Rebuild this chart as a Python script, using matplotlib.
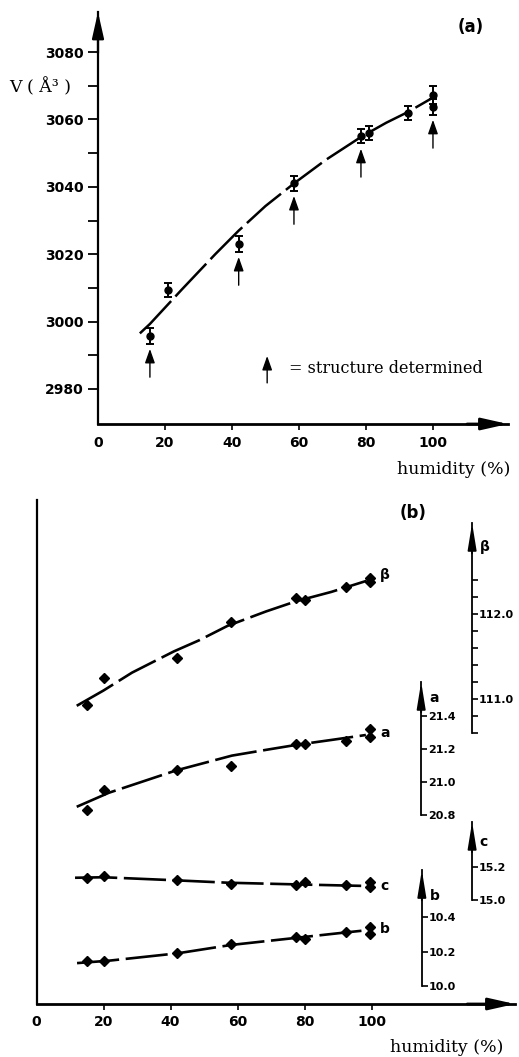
import matplotlib
matplotlib.use('Agg')
import matplotlib.pyplot as plt

W, H = 519, 1057
fig = plt.figure(figsize=(W / 100, H / 100), dpi=100)

# ---------------- data: panel (a) ----------------
hum_a = [15.5, 21, 42, 58.5, 78.5, 81, 92.5, 100, 100]
vol_a = [2995.7, 3009.4, 3023.0, 3041.1, 3055.1, 3056.0, 3061.9, 3067.2, 3063.7]
vol_err = [2.4, 2.2, 2.4, 2.2, 2.2, 2.2, 2.2, 2.6, 2.4]
struct_idx = [0, 2, 3, 4, 8]          # points marked "structure determined"
fit_hum_a = [12.5, 15.5, 25, 35, 42, 50, 58.5, 68, 78.5, 86, 92.5, 100]
fit_vol_a = [2996.5, 2999.3, 3009.5, 3020.0, 3027.0, 3034.3, 3041.0, 3048.0, 3054.8, 3059.0, 3062.2, 3066.5]
a_xticks = [0, 20, 40, 60, 80, 100]
a_yticks = [2980, 3000, 3020, 3040, 3060, 3080]
a_yminor = [2990, 3010, 3030, 3050, 3070]

# ---------------- data: panel (b) ----------------
hum_b = [15, 20, 42, 58, 77.5, 80, 92.5, 99.5, 99.5]
beta_v = [110.93, 111.25, 111.48, 111.91, 112.19, 112.16, 112.32, 112.42, 112.38]
a_v = [20.83, 20.95, 21.07, 21.10, 21.23, 21.23, 21.25, 21.32, 21.27]
c_v = [15.133, 15.145, 15.121, 15.097, 15.091, 15.109, 15.091, 15.109, 15.079]
b_v = [10.145, 10.145, 10.191, 10.243, 10.284, 10.272, 10.313, 10.342, 10.301]

fit_beta_x = [12, 20, 28.5, 41, 48.5, 57, 68.5, 77.5, 88, 98.5]
fit_beta_y = [110.92, 111.10, 111.31, 111.56, 111.69, 111.86, 112.03, 112.15, 112.26, 112.39]
fit_a_x = [12, 21.6, 41.6, 58.3, 68.5, 77.5, 88, 98.3]
fit_a_y = [20.85, 20.935, 21.07, 21.16, 21.195, 21.225, 21.255, 21.285]
fit_c_x = [11.5, 20, 41, 57, 77, 92, 99]
fit_c_y = [15.135, 15.138, 15.12, 15.105, 15.095, 15.088, 15.085]
fit_b_x = [12.1, 21.6, 42.2, 58, 77.8, 92.4, 99.3]
fit_b_y = [10.133, 10.147, 10.19, 10.238, 10.28, 10.311, 10.325]

b_xticks = [0, 20, 40, 60, 80, 100]

SANS = 'DejaVu Sans'
SERIF = 'DejaVu Serif'


def rect(x0, y0, x1, y1):
    return [x0 / W, 1 - y1 / H, (x1 - x0) / W, (y1 - y0) / H]


def big_arrow(ax, xy, xytext, lw=1.6, hl=1.6, hw=0.36):
    ax.annotate('', xy=xy, xytext=xytext, xycoords='axes fraction',
                textcoords='axes fraction',
                arrowprops=dict(arrowstyle='-|>,head_length=%g,head_width=%g' % (hl, hw),
                                color='k', lw=lw, mutation_scale=10,
                                shrinkA=0, shrinkB=0))


# ================= panel (a) =================
axa = fig.add_axes(rect(98, 12, 508, 424))
axa.set_xlim(0, 122.4)
axa.set_ylim(2969.6, 3091.9)
axa.patch.set_visible(False)
for s in ['top', 'right']:
    axa.spines[s].set_visible(False)
axa.spines['left'].set_linewidth(1.6)
axa.spines['bottom'].set_linewidth(2.0)
big_arrow(axa, (0, 1.0), (0, 0.9), lw=1.6)
big_arrow(axa, (1.0, 0), (0.9, 0), lw=2.0)

axa.set_xticks(a_xticks)
axa.set_xticklabels([str(v) for v in a_xticks])
axa.set_yticks(a_yticks)
axa.set_yticklabels([str(v) for v in a_yticks])
axa.set_yticks(a_yminor, minor=True)
axa.tick_params(axis='y', which='both', direction='out', length=7, width=1.3,
                pad=3, labelsize=10)
axa.tick_params(axis='x', direction='out', length=4, width=1.2, pad=5, labelsize=10)
for lab in axa.get_xticklabels() + axa.get_yticklabels():
    lab.set_fontfamily(SANS)
    lab.set_fontweight('bold')
axa.xaxis.get_major_ticks()[0].tick1line.set_visible(False)

axa.plot(fit_hum_a, fit_vol_a, color='k', lw=1.8, ls=(0, (18, 2.5)),
         solid_capstyle='butt', dash_capstyle='butt')
axa.errorbar(hum_a, vol_a, yerr=vol_err, fmt='o', color='k', ms=5,
             elinewidth=1.4, capsize=3, capthick=1.4)

for i in struct_idx:
    axa.annotate('', xy=(hum_a[i], vol_a[i] - 3.8), xytext=(hum_a[i], vol_a[i] - 12.2),
                 arrowprops=dict(arrowstyle='-|>,head_length=0.85,head_width=0.3',
                                 color='k', lw=1.0, mutation_scale=10,
                                 shrinkA=0, shrinkB=0))
# legend arrow
axa.annotate('', xy=(50.5, 2989.8), xytext=(50.5, 2981.8),
             arrowprops=dict(arrowstyle='-|>,head_length=0.85,head_width=0.3',
                             color='k', lw=1.0, mutation_scale=10,
                             shrinkA=0, shrinkB=0))
axa.text(57.0, 2986.0, '= structure determined', family=SERIF, fontsize=11.5,
         ha='left', va='center')

fig.text(9 / W, 1 - 87 / H, 'V ( Å³ )', family=SERIF, fontsize=12.5,
         ha='left', va='center')
fig.text(471 / W, 1 - 27 / H, '(a)', family=SANS, fontweight='bold',
         fontsize=12, ha='center', va='center')
fig.text(510 / W, 1 - 470 / H, 'humidity (%)', family=SERIF, fontsize=12.5,
         ha='right', va='center')

# ================= panel (b) =================
axb = fig.add_axes(rect(36.5, 500, 515, 1004))
axb.set_xlim(0, 142.8)
axb.set_ylim(0, 1)
axb.patch.set_visible(False)
for s in ['top', 'right']:
    axb.spines[s].set_visible(False)
axb.spines['left'].set_linewidth(1.6)
axb.spines['bottom'].set_linewidth(2.0)
big_arrow(axb, (1.0, 0), (0.9, 0), lw=2.0)
axb.set_yticks([])
axb.set_xticks(b_xticks)
axb.set_xticklabels([str(v) for v in b_xticks])
axb.tick_params(axis='x', direction='out', length=4, width=1.2, pad=4, labelsize=10)
for lab in axb.get_xticklabels():
    lab.set_fontfamily(SANS)
    lab.set_fontweight('bold')
axb.xaxis.get_major_ticks()[0].tick1line.set_visible(False)

fig.text(413 / W, 1 - 513 / H, '(b)', family=SANS, fontweight='bold',
         fontsize=12, ha='center', va='center')
fig.text(503 / W, 1 - 1047 / H, 'humidity (%)', family=SERIF, fontsize=12.5,
         ha='right', va='center')


def series_axis(ylim, sx, lo, top, majors, minors, fmt, name, name_y,
                px, py, fx, fy, lab, lab_y):
    t = axb.twinx()
    t.set_ylim(*ylim)
    t.set_xlim(axb.get_xlim())
    t.patch.set_visible(False)
    for s in ['left', 'top', 'bottom']:
        t.spines[s].set_visible(False)
    t.spines['right'].set_position(('data', sx))
    t.spines['right'].set_bounds(lo, top)
    t.spines['right'].set_linewidth(1.3)
    t.set_yticks(majors)
    t.set_yticklabels([fmt % v for v in majors])
    if minors:
        t.set_yticks(minors, minor=True)
    t.tick_params(axis='y', which='both', direction='out', length=4, width=1.2,
                  pad=1, labelsize=8)
    for l in t.get_yticklabels():
        l.set_fontfamily(SANS)
        l.set_fontweight('bold')
    span = ylim[1] - ylim[0]
    t.annotate('', xy=(sx, top), xytext=(sx, top - 0.06 * span),
               arrowprops=dict(arrowstyle='-|>,head_length=1.6,head_width=0.26',
                               color='k', lw=1.3, mutation_scale=10,
                               shrinkA=0, shrinkB=0))
    t.text(sx + 2.3, name_y, name, family=SANS, fontweight='bold', fontsize=10,
           ha='left', va='center')
    # data
    t.plot(fx, fy, color='k', lw=1.9, ls=(0, (16, 2.5)), dash_capstyle='butt')
    t.plot(px, py, ls='none', marker='D', ms=5.5, color='k', clip_on=False)
    t.text(102.5, lab_y, lab, family=SANS, fontweight='bold', fontsize=10,
           ha='left', va='center')
    return t


series_axis((107.412, 113.341), 130.0, 110.6, 113.07, [111.0, 112.0],
            [110.6, 110.8, 111.2, 111.4, 111.6, 111.8, 112.2, 112.4], '%.1f',
            'β', 112.79, hum_b, beta_v, fit_beta_x, fit_beta_y, 'β', 112.46)
series_axis((19.655, 22.709), 114.8, 20.8, 21.606, [20.8, 21.0, 21.2, 21.4],
            None, '%.1f', 'a', 21.51, hum_b, a_v, fit_a_x, fit_a_y, 'a', 21.30)
series_axis((14.370, 17.424), 130.0, 15.0, 15.473, [15.0, 15.2],
            None, '%.1f', 'c', 15.35, hum_b, c_v, fit_c_x, fit_c_y, 'c', 15.085)
series_axis((9.896, 12.817), 115.0, 10.0, 10.672, [10.0, 10.2, 10.4],
            None, '%.1f', 'b', 10.52, hum_b, b_v, fit_b_x, fit_b_y, 'b', 10.33)

fig.savefig('out.png', dpi=100)
